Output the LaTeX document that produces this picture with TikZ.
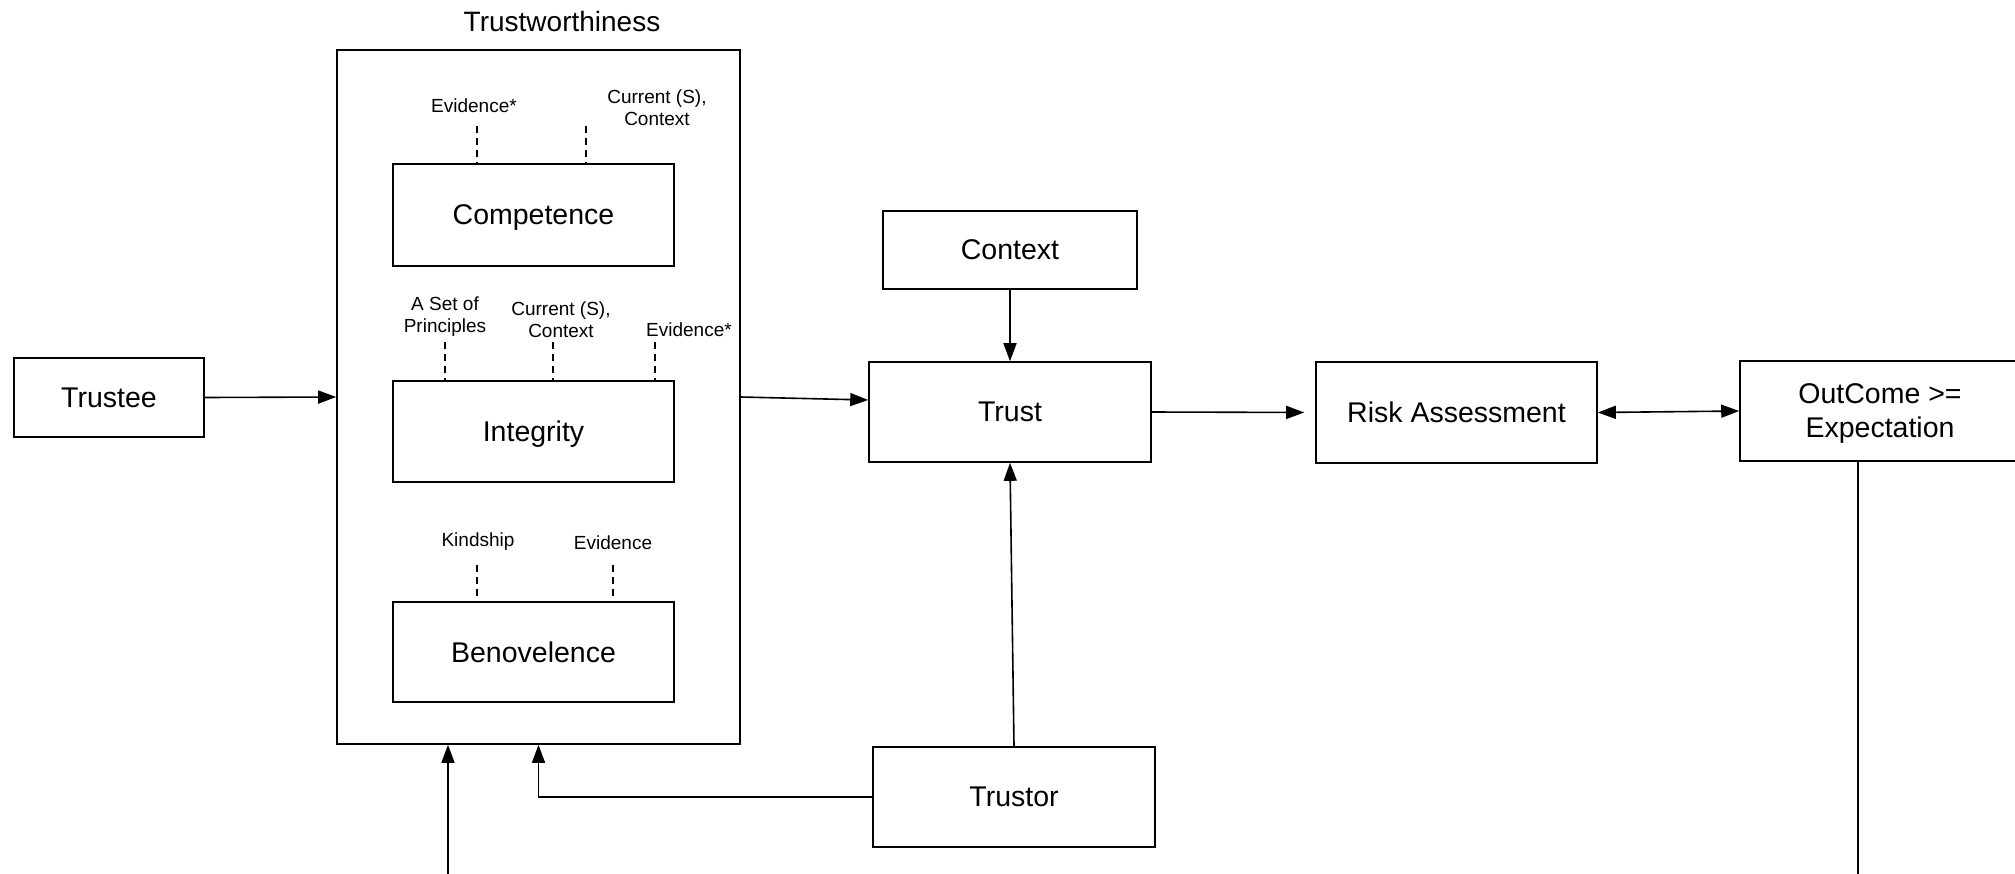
\documentclass[tikz,border=0pt]{standalone}
\usepackage{fontspec}
\setmainfont{Liberation Sans}
\usetikzlibrary{arrows.meta}
\begin{document}
\begin{tikzpicture}[x=1pt,y=-1pt,
  box/.style={draw, line width=1.6pt, inner sep=0pt, text depth=0pt, font=\fontsize{28.5}{34}\selectfont, align=center},
  ttl/.style={inner sep=0pt, font=\fontsize{28}{33}\selectfont},
  lbl/.style={inner sep=0pt, font=\fontsize{19}{22}\selectfont, align=center},
  arr/.style={line width=1.6pt, -{Triangle[length=18pt,width=13pt]}},
  darr/.style={line width=1.6pt, {Triangle[length=18pt,width=13pt]}-{Triangle[length=18pt,width=13pt]}},
  ln/.style={line width=1.6pt},
  dsh/.style={line width=1.4pt, dash pattern=on 7pt off 5pt}]
\useasboundingbox (0,0) rectangle (2015,873);
\clip (0,0) rectangle (2015,873);

% outer box
\node[box, minimum width=403pt, minimum height=694pt] (tw) at (538.5,397) {};
\node[ttl] (twt) at (562,21) {Trustworthiness};

% inner boxes
\node[box, minimum width=281pt, minimum height=102pt] (comp) at (533.5,215) {Competence};
\node[box, minimum width=281pt, minimum height=101pt] (integ) at (533.5,431.5) {Integrity};
\node[box, minimum width=281pt, minimum height=100pt] (benev) at (533.5,652) {Benovelence};

% labels
\node[lbl] (ce) at (474,106) {Evidence*};
\node[lbl] (cc) at (657,108) {Current (S),\\Context};
\node[lbl] (ip) at (445,317) {A Set of\\Principles};
\node[lbl] (ic) at (561,320) {Current (S),\\Context};
\node[lbl] (ie) at (689,330) {Evidence*};
\node[lbl] (bk) at (478,542) {Kindship};
\node[lbl] (be) at (613,543) {Evidence};

% dashed ties
\coordinate (d1) at (477,126);
\coordinate (d2) at (586,126);
\coordinate (d3) at (445,342);
\coordinate (d4) at (553,342);
\coordinate (d5) at (655,342);
\coordinate (d6) at (477,565);
\coordinate (d7) at (613,565);
\draw[dsh] (d1) -- (d1 |- comp.north);
\draw[dsh] (d2) -- (d2 |- comp.north);
\draw[dsh] (d3) -- (d3 |- integ.north);
\draw[dsh] (d4) -- (d4 |- integ.north);
\draw[dsh] (d5) -- (d5 |- integ.north);
\draw[dsh] (d6) -- (d6 |- benev.north);
\draw[dsh] (d7) -- (d7 |- benev.north);

% other boxes
\node[box, minimum width=190pt, minimum height=79pt] (trustee) at (109,397.5) {Trustee};
\node[box, minimum width=254pt, minimum height=78pt] (context) at (1010,250) {Context};
\node[box, minimum width=282pt, minimum height=100pt] (trust) at (1010,412) {Trust};
\node[box, minimum width=282pt, minimum height=100pt] (trustor) at (1014,797) {Trustor};
\node[box, minimum width=281pt, minimum height=101pt] (risk) at (1456.5,412.5) {Risk Assessment};
\node[box, minimum width=280pt, minimum height=100pt] (out) at (1880,411) {OutCome >=\\Expectation};

% connectors
\draw[arr] (trustee.east) -- (tw.west);
\draw[arr] (tw.east) -- ([yshift=12pt]trust.west);
\draw[arr] (context.south) -- (trust.north);
\draw[arr] (trustor.north) -- (trust.south);
\draw[arr, shorten >=11pt] (trust.east) -- (risk.west);
\draw[darr] (risk.east) -- (out.west);
\draw[arr] (trustor.west) -| (tw.south);
\coordinate (b1) at (448,880);
\draw[arr] (b1) -- (b1 |- tw.south);
\coordinate (b2) at (1858,880);
\draw[ln] (b2) -- (b2 |- out.south);
\end{tikzpicture}
\end{document}
